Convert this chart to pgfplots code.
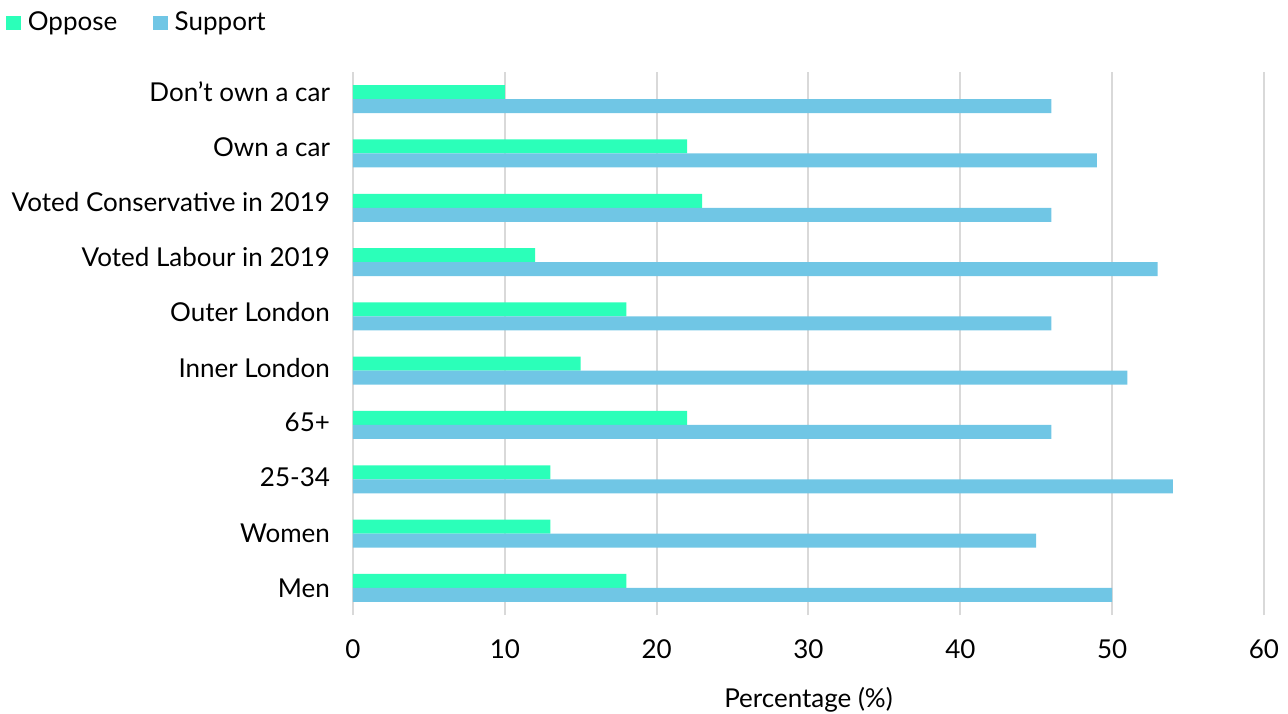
\documentclass[border=0pt]{standalone}
\usepackage{pgfplots}
\pgfplotsset{compat=1.18}
\usepackage{fontspec}
\setmainfont{Lato}
\definecolor{oppose}{HTML}{2BFFB9}
\definecolor{support}{HTML}{70C6E5}
\definecolor{gridc}{HTML}{D9D9D9}
\begin{document}
\begin{tikzpicture}
\begin{axis}[
  name=ax,
  scale only axis,
  width=455.5pt, height=271.5pt,
  xbar, bar width=7pt,
  xmin=0, xmax=60, ymin=-0.5, ymax=9.5,
  xtick={0,10,...,60},
  ytick={0,1.014,2.029,3.043,4.057,5.071,6.086,7.1,8.114,9.129},
  yticklabels={Men,Women,25-34,65+,Inner London,Outer London,Voted Labour in 2019,Voted Conservative in 2019,Own a car,Don't own a car},
  axis line style={draw=none},
  major tick length=0pt,
  xmajorgrids, grid style={gridc, line width=1pt},
  tick label style={font=\fontsize{13}{15}\selectfont},
  /pgf/number format/assume math mode=true,
  yticklabel style={xshift=-8pt},
  xticklabel style={yshift=-9pt},
  xlabel={Percentage (\%)},
  xlabel style={font=\fontsize{13}{15}\selectfont, yshift=-7pt},
  legend style={at={(rel axis cs:-0.383,1.122)}, anchor=north west, draw=none, font=\fontsize{13}{15}\selectfont, column sep=0pt, inner sep=1pt},
  legend columns=2,
  /tikz/every even column/.append style={column sep=16pt},
  legend image code/.code={\fill[#1] (0pt,-3.7pt) rectangle (7.2pt,3.7pt);},
]
\addplot[fill=oppose, draw=none, bar shift=3.5pt] coordinates {
 (18,0) (13,1) (13,2) (22,3) (15,4) (18,5) (12,6) (23,7) (22,8) (10,9)};
\addlegendentry{\hspace{1.5pt}Oppose}
\addplot[fill=support, draw=none, bar shift=-3.5pt] coordinates {
 (50,0) (45,1) (54,2) (46,3) (51,4) (46,5) (53,6) (46,7) (49,8) (46,9)};
\addlegendentry{\hspace{1.5pt}Support}
\end{axis}
\pgfresetboundingbox
\path[use as bounding box] (-176.5pt,-49pt) rectangle (467.5pt,307.5pt);
\end{tikzpicture}
\end{document}
